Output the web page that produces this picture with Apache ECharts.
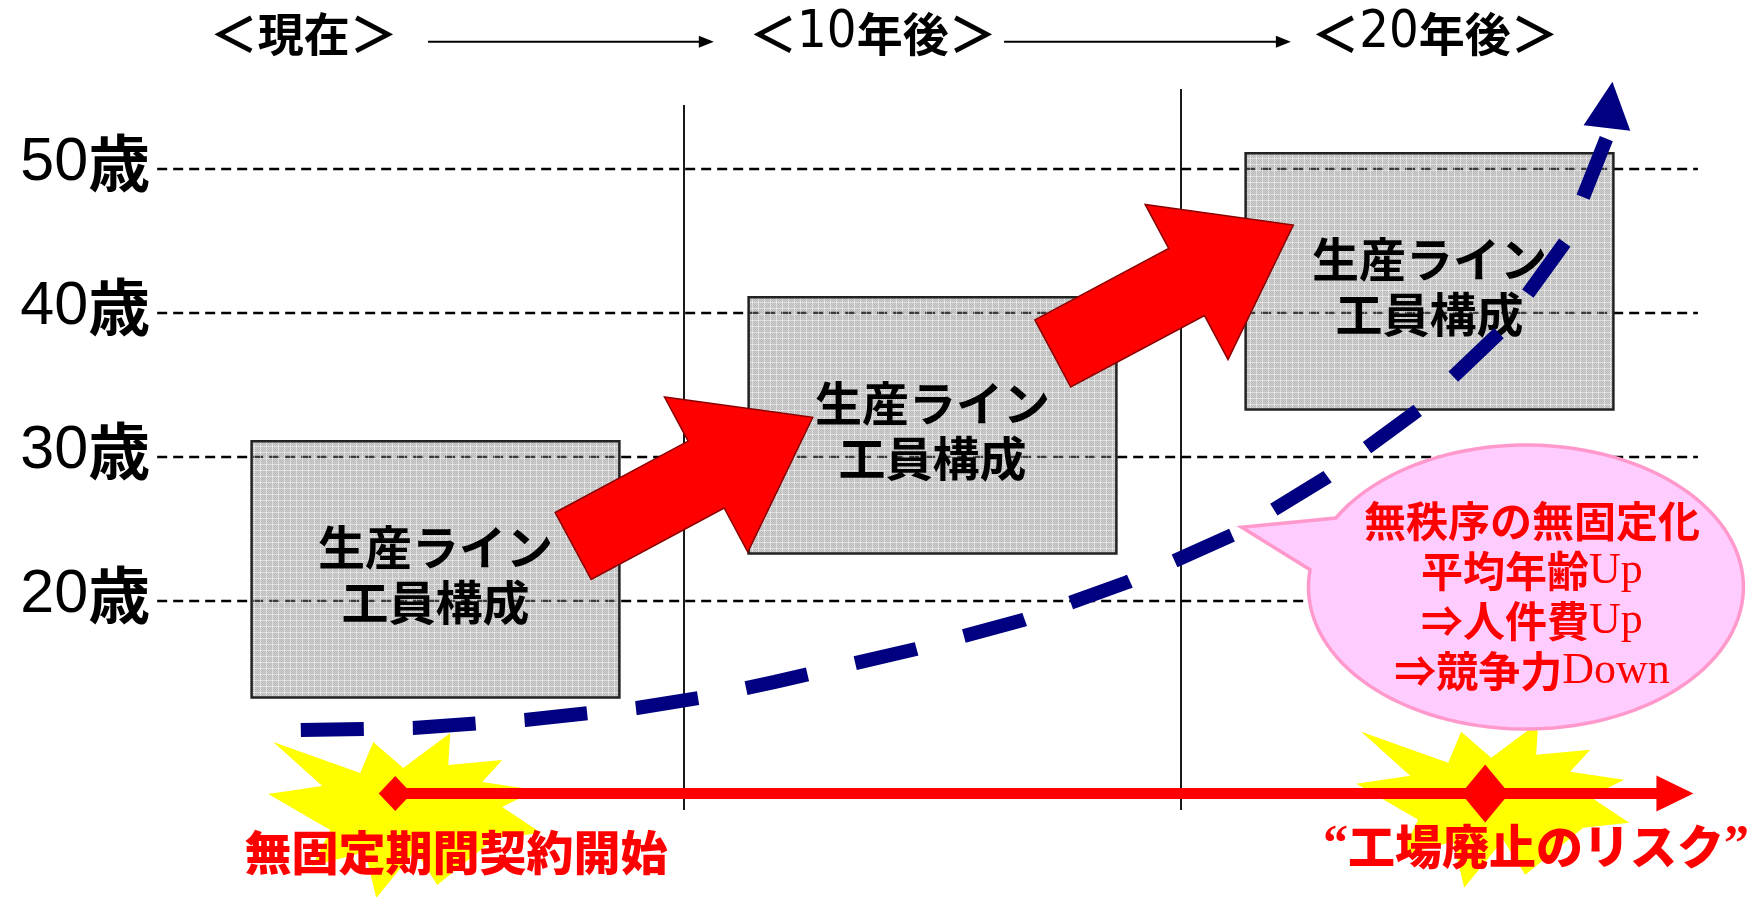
<!DOCTYPE html>
<html>
<head>
<meta charset="utf-8">
<script src="https://cdn.jsdelivr.net/npm/echarts@6/dist/echarts.min.js"></script>
<style>
html,body{margin:0;padding:0;background:#fff;}
#c{width:1762px;height:897px;}
</style>
</head>
<body>
<div id="c"></div>
<script>
// ---------- data (years on x, age on y) ----------
const ageTicks = [20, 30, 40, 50];
const periodLabels = ['現在', '10年後', '20年後'];
const periodYears = [2.35, 13.80, 25.11];
const boxStartYears = [1.3, 11.3, 21.3];
const boxEndYears = [8.7, 18.7, 28.7];
const boxTopAges = [31.1, 41.1, 51.1];
const boxBottomAges = [13.3, 23.3, 33.3];
const boxLabel = '生産ライン\n工員構成';
const dividerYears = [10, 20];
const dividerTopAges = [54.44, 55.56];
const dividerBottomAge = 5.49;
const shiftTails = [[7.77, 23.82], [17.42, 37.19]];
const shiftTips = [[12.59, 32.76], [22.26, 46.11]];
const curveYears = [2.29, 4.55, 6.80, 9.05, 10.30, 11.83, 14.67, 16.82, 18.93, 21.03, 22.94, 24.77, 26.42, 27.73, 28.57];
const curveAges = [11.04, 11.18, 11.74, 12.57, 13.26, 14.38, 16.67, 18.68, 21.32, 24.58, 28.61, 33.26, 38.68, 44.93, 52.22];
const curveArrowBase = [28.57, 52.85];
const curveArrowTip = [28.68, 56.06];
const eventYears = [4.19, 26.12];
const eventAge = 6.64;
const timelineEndYear = 30.31;
const eventLabels = ['無固定期間契約開始', '“工場廃止のリスク”'];
const eventLabelPos = [[5.41, 2.54], [27.14, 3.0]];
const starCenters = [[4.19, 6.63], [26.08, 7.34]];
const bubbleLines = ['無秩序の無固定化', '平均年齢Up', '⇒人件費Up', '⇒競争力Down'];
const bubbleCenter = [26.94, 20.97];
const bubbleTail = [21.22, 25.12];
const headerAge = 59.42;
const headerArrowAge = 58.84;
const headerArrows = [[4.85, 10.60], [16.44, 22.21]];

// ---------- styling helpers ----------
const X_MIN = -0.6, X_MAX = 30.4;
const CJK = '"Noto Sans CJK JP"';
const RED = '#ff0000';

function makePattern() {
  const c = document.createElement('canvas');
  c.width = 6; c.height = 6;
  const g = c.getContext('2d');
  g.fillStyle = 'rgba(140,140,140,0.40)';
  g.fillRect(0, 0, 6, 6);
  g.fillStyle = 'rgba(90,90,90,0.22)';
  for (let i = 0; i < 6; i++) for (let j = 0; j < 6; j++) if ((i + j) % 2 === 0) g.fillRect(i, j, 1, 1);
  g.fillStyle = 'rgba(255,255,255,0.45)';
  g.fillRect(0, 2, 6, 1);
  g.fillRect(2, 0, 1, 6);
  return { image: c, repeat: 'repeat' };
}
const boxPattern = makePattern();

const STAR = [[-122,-51.5],[-35,-20.5],[-22,-51.5],[8,-25.5],[55,-60.5],[53,-28.5],[107,-33.5],[87,-11.5],[141,-3.5],[107,13.5],[146,39.5],[100,44.5],[42,91.5],[20,56.5],[-19,104.5],[-30,58.5],[-83,72.5],[-65,36.5],[-127,0.5],[-73,-7.5]];

function richCJK(label) {
  return label.match(/\d+|[“”]|[A-Za-z]+|⇒|[^\dA-Za-z“”⇒]+/g).map(p => {
    if (/^\d+$/.test(p)) return '{d|' + p + '}';
    if (/^[“”]$/.test(p)) return '{q|' + p + '}';
    if (/^[A-Za-z]+$/.test(p)) return '{l|' + p + '}';
    if (p === '⇒') return '{a|' + p + '}';
    return '{k|' + p + '}';
  }).join('');
}

const chart = echarts.init(document.getElementById('c'), null, { renderer: 'canvas' });

const option = {
  animation: false,
  backgroundColor: '#fff',
  grid: { left: 157.18, right: 64.1, top: 25, bottom: 8, containLabel: false },
  xAxis: { type: 'value', min: X_MIN, max: X_MAX, show: false },
  yAxis: {
    type: 'value', min: 0, max: 60, interval: 10,
    axisLine: { show: false }, axisTick: { show: false }, splitLine: { show: false },
    axisLabel: {
      margin: 7,
      padding: [0, 0, 12, 0],
      formatter: v => ageTicks.includes(v) ? '{n|' + v + '}{k|歳}' : '',
      rich: {
        n: { fontFamily: '"Liberation Sans", Arial, sans-serif', fontSize: 61, color: '#000' },
        k: { fontFamily: CJK, fontWeight: 'bold', fontSize: 62, color: '#000' }
      }
    }
  },
  series: [
    // dashed age gridlines
    {
      type: 'custom', z: 1, silent: true,
      data: ageTicks.map(a => [X_MIN, a]),
      renderItem: (p, api) => {
        const a = api.value(1);
        const p0 = api.coord([X_MIN, a]), p1 = api.coord([X_MAX, a]);
        return { type: 'line', shape: { x1: p0[0], y1: p0[1], x2: p1[0], y2: p1[1] },
          style: { stroke: '#000', lineWidth: 2.4, lineDash: [10, 6] } };
      }
    },
    // period dividers
    {
      type: 'custom', z: 1, silent: true,
      data: dividerYears.map((x, i) => [x, dividerTopAges[i], dividerBottomAge]),
      renderItem: (p, api) => {
        const p0 = api.coord([api.value(0), api.value(1)]), p1 = api.coord([api.value(0), api.value(2)]);
        return { type: 'line', shape: { x1: p0[0], y1: p0[1], x2: p1[0], y2: p1[1] },
          style: { stroke: '#000', lineWidth: 1.8 } };
      }
    },
    // workforce boxes
    {
      type: 'custom', z: 2, silent: true,
      data: boxStartYears.map((s, i) => [s, boxTopAges[i], boxEndYears[i], boxBottomAges[i]]),
      renderItem: (p, api) => {
        const a = api.coord([api.value(0), api.value(1)]), b = api.coord([api.value(2), api.value(3)]);
        return { type: 'group', children: [
          { type: 'rect', shape: { x: a[0], y: a[1], width: b[0] - a[0], height: b[1] - a[1] },
            style: { fill: boxPattern, stroke: '#222', lineWidth: 2.5 } },
          { type: 'text', z2: 5, style: { text: boxLabel, x: (a[0] + b[0]) / 2, y: (a[1] + b[1]) / 2 + 5,
            align: 'center', verticalAlign: 'middle', fontFamily: CJK, fontWeight: 'bold', fontSize: 47,
            lineHeight: 55, fill: '#000' } }
        ] };
      }
    },
    // red block arrows
    {
      type: 'custom', z: 3, silent: true,
      data: shiftTails.map((t, i) => [t[0], t[1], shiftTips[i][0], shiftTips[i][1]]),
      renderItem: (p, api) => {
        const t = api.coord([api.value(0), api.value(1)]), h = api.coord([api.value(2), api.value(3)]);
        const dx = h[0] - t[0], dy = h[1] - t[1], L = Math.hypot(dx, dy);
        const ux = dx / L, uy = dy / L, nx = -uy, ny = ux;
        const hl = 121, sw = 38, hw = 88;
        const bx = h[0] - ux * hl, by = h[1] - uy * hl;
        const P = (x, y, k) => [x + nx * k, y + ny * k];
        return { type: 'polygon', shape: { points: [P(t[0], t[1], -sw), P(bx, by, -sw), P(bx, by, -hw), h, P(bx, by, hw), P(bx, by, sw), P(t[0], t[1], sw)] },
          style: { fill: RED, stroke: '#8b0000', lineWidth: 1.5 } };
      }
    },
    // starbursts
    {
      type: 'custom', z: 3, silent: true,
      data: starCenters,
      renderItem: (p, api) => {
        const c = api.coord([api.value(0), api.value(1)]);
        return { type: 'polygon', shape: { points: STAR.map(o => [c[0] + o[0], c[1] + o[1]]) },
          style: { fill: '#ffff00' } };
      }
    },
    // speech bubble
    {
      type: 'custom', z: 4, silent: true,
      data: [[bubbleCenter[0], bubbleCenter[1], bubbleTail[0], bubbleTail[1]]],
      renderItem: (p, api) => {
        const cx = api.value(0), cy = api.value(1);
        const c = api.coord([cx, cy]);
        const rx = api.coord([cx + 4.376, cy])[0] - c[0];
        const ry = c[1] - api.coord([cx, cy + 9.86])[1];
        const tip = api.coord([api.value(2), api.value(3)]);
        const pts = [];
        const t1 = 209.1 * Math.PI / 180, t2 = 547 * Math.PI / 180;
        for (let i = 0; i <= 120; i++) {
          const t = t1 + (t2 - t1) * i / 120;
          pts.push([c[0] + rx * Math.cos(t), c[1] + ry * Math.sin(t)]);
        }
        pts.push(tip);
        const txt = bubbleLines.map(richCJK).join('\n');
        return { type: 'group', children: [
          { type: 'polygon', shape: { points: pts }, style: { fill: '#ffccff', stroke: '#ff99cc', lineWidth: 3.5, lineJoin: 'miter' } },
          { type: 'text', z2: 5, style: { text: txt, x: c[0] + 6, y: c[1] + 9, align: 'center', verticalAlign: 'middle',
            lineHeight: 50, fill: RED,
            rich: {
              k: { fontFamily: CJK, fontWeight: 'bold', fontSize: 42, fill: RED, lineHeight: 50 },
              a: { fontFamily: CJK, fontWeight: 'bold', fontSize: 42, fill: RED, lineHeight: 50 },
              l: { fontFamily: '"Liberation Serif", serif', fontSize: 44, fill: RED, lineHeight: 50 }
            } } }
        ] };
      }
    },
    // navy dashed trend of average age
    {
      type: 'line', z: 5, silent: true, symbol: 'none', showSymbol: false, smooth: false,
      data: curveYears.map((x, i) => [x, curveAges[i]]),
      lineStyle: { color: '#000080', width: 14, type: [63, 49], cap: 'butt' }
    },
    // arrowhead of trend
    {
      type: 'custom', z: 5, silent: true,
      data: [[curveArrowBase[0], curveArrowBase[1], curveArrowTip[0], curveArrowTip[1]]],
      renderItem: (p, api) => {
        const b = api.coord([api.value(0), api.value(1)]), t = api.coord([api.value(2), api.value(3)]);
        const dx = t[0] - b[0], dy = t[1] - b[1], L = Math.hypot(dx, dy);
        const nx = -dy / L, ny = dx / L, hw = 23.5;
        return { type: 'polygon', shape: { points: [[b[0] + nx * hw, b[1] + ny * hw], t, [b[0] - nx * hw, b[1] - ny * hw]] },
          style: { fill: '#000080' } };
      }
    },
    // timeline
    {
      type: 'custom', z: 6, silent: true,
      data: [[eventYears[0], eventAge, timelineEndYear]],
      renderItem: (p, api) => {
        const a = api.coord([api.value(0), api.value(1)]), b = api.coord([api.value(2), api.value(1)]);
        const hl = 37, hh = 18;
        return { type: 'group', children: [
          { type: 'line', shape: { x1: a[0], y1: a[1], x2: b[0] - hl + 1, y2: b[1] }, style: { stroke: RED, lineWidth: 11 } },
          { type: 'polygon', shape: { points: [[b[0] - hl, b[1] - hh], b, [b[0] - hl, b[1] + hh]] }, style: { fill: RED } }
        ] };
      }
    },
    // event diamonds
    {
      type: 'scatter', z: 7, silent: true, symbol: 'diamond',
      data: [
        { value: [eventYears[0], eventAge], symbolSize: [33, 35] },
        { value: [eventYears[1], eventAge], symbolSize: [48, 58] }
      ],
      itemStyle: { color: RED, opacity: 1 }
    },
    // event labels
    {
      type: 'custom', z: 8, silent: true,
      data: eventLabelPos,
      renderItem: (p, api) => {
        const c = api.coord([api.value(0), api.value(1)]);
        return { type: 'text', style: { text: richCJK(eventLabels[p.dataIndex]), x: c[0], y: c[1], align: 'center', verticalAlign: 'middle',
          fill: RED,
          rich: {
            k: { fontFamily: CJK, fontWeight: 900, fontSize: 47, fill: RED },
            q: { fontFamily: '"Liberation Serif", serif', fontWeight: 'bold', fontSize: 50, fill: RED }
          } } };
      }
    },
    // period headers
    {
      type: 'custom', z: 8, silent: true,
      data: periodYears.map(x => [x, headerAge]),
      renderItem: (p, api) => {
        const c = api.coord([api.value(0), api.value(1)]);
        const txt = '{b|＜}' + richCJK(periodLabels[p.dataIndex]) + '{b|＞}';
        return { type: 'text', style: { text: txt, x: c[0], y: c[1], align: 'center', verticalAlign: 'middle', fill: '#000',
          rich: {
            b: { fontFamily: CJK, fontWeight: 'bold', fontSize: 48, fill: '#000' },
            k: { fontFamily: CJK, fontWeight: 'bold', fontSize: 46, fill: '#000' },
            d: { fontFamily: '"Liberation Sans Narrow", "DejaVu Sans Condensed", sans-serif', fontSize: 52, fill: '#000' }
          } } };
      }
    },
    // header arrows
    {
      type: 'custom', z: 8, silent: true,
      data: headerArrows.map(h => [h[0], headerArrowAge, h[1]]),
      renderItem: (p, api) => {
        const a = api.coord([api.value(0), api.value(1)]), b = api.coord([api.value(2), api.value(1)]);
        return { type: 'group', children: [
          { type: 'line', shape: { x1: a[0], y1: a[1], x2: b[0] - 12, y2: b[1] }, style: { stroke: '#000', lineWidth: 2 } },
          { type: 'polygon', shape: { points: [[b[0] - 15, b[1] - 6], b, [b[0] - 15, b[1] + 6]] }, style: { fill: '#000' } }
        ] };
      }
    }
  ]
};
chart.setOption(option);
</script>
</body>
</html>
